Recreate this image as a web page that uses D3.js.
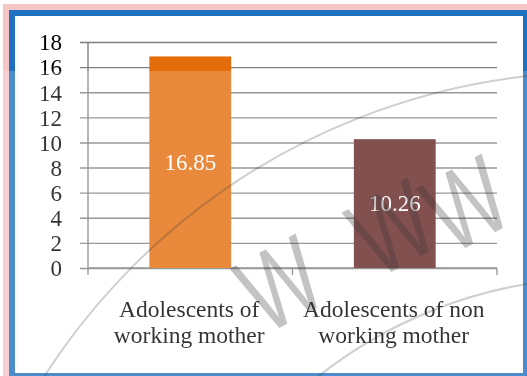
<!DOCTYPE html>
<html>
<head>
<meta charset="utf-8">
<script src="https://cdn.jsdelivr.net/npm/d3@7/dist/d3.min.js"></script>
<style>
  html, body { margin: 0; padding: 0; background: #fff; }
  svg { display: block; }
</style>
</head>
<body>
<svg id="chart" width="527" height="376"></svg>
<script>
// Chart data
const categoryLines = [
  ["Adolescents of", "working mother"],
  ["Adolescents of non", "working mother"]
];
const values = [16.85, 10.26];
const valueLabels = ["16.85", "10.26"];
const barColors = ["#E46C0A", "#632523"];
const yTicks = [0, 2, 4, 6, 8, 10, 12, 14, 16, 18];

const W = 527, H = 376;
const svg = d3.select("#chart");
const font = "'Liberation Serif', 'Times New Roman', serif";

// Frame: pink outer edge, blue border, white panel
svg.append("rect").attr("x", 3).attr("y", 4).attr("width", W - 3).attr("height", H - 4).attr("fill", "#F5C6C6");
svg.append("rect").attr("x", 9).attr("y", 10).attr("width", W - 9).attr("height", H - 10).attr("fill", "#1F70C1");
svg.append("rect").attr("x", 15).attr("y", 16).attr("width", 508).attr("height", 357).attr("fill", "#fff");

// Scales
const plot = { left: 88, right: 497, top: 42, bottom: 268 };
const x = d3.scaleBand()
  .domain(d3.range(values.length))
  .range([plot.left, plot.right])
  .paddingInner(0.6)
  .paddingOuter(0.3);
const y = d3.scaleLinear().domain([0, 18]).range([plot.bottom, plot.top]);

// Horizontal gridlines + y axis
const yAxis = d3.axisLeft(y)
  .tickValues(yTicks)
  .tickSize(-(plot.right - plot.left))
  .tickPadding(0)
  .tickFormat(d3.format("d"));
const gy = svg.append("g").attr("transform", `translate(${plot.left},0)`).call(yAxis);
gy.select(".domain").remove();
gy.selectAll(".tick line")
  .attr("x1", -8)
  .attr("stroke", "#7f7f7f")
  .attr("stroke-width", 1.4);
gy.selectAll(".tick text")
  .attr("x", -26)
  .attr("dy", "0.34em")
  .attr("fill", "#000")
  .style("font-family", font)
  .style("font-size", "23px");

// Vertical axis line
svg.append("line")
  .attr("x1", plot.left).attr("x2", plot.left)
  .attr("y1", y(18)).attr("y2", y(0))
  .attr("stroke", "#7f7f7f").attr("stroke-width", 1.4);

// Category axis with tick marks at band boundaries
const boundaries = [plot.left, (plot.left + plot.right) / 2, plot.right];
svg.append("line")
  .attr("x1", plot.left).attr("x2", plot.right)
  .attr("y1", y(0)).attr("y2", y(0))
  .attr("stroke", "#7f7f7f").attr("stroke-width", 1.4);
svg.selectAll(".xtick").data(boundaries).join("line")
  .attr("class", "xtick")
  .attr("x1", d => d).attr("x2", d => d)
  .attr("y1", y(0)).attr("y2", y(0) + 7)
  .attr("stroke", "#7f7f7f").attr("stroke-width", 1.4);

// Bars
svg.selectAll(".bar").data(values).join("rect")
  .attr("class", "bar")
  .attr("x", (d, i) => x(i))
  .attr("width", x.bandwidth())
  .attr("y", d => y(d))
  .attr("height", d => y(0) - y(d))
  .attr("fill", (d, i) => barColors[i]);

// Value labels centred in the bars
svg.selectAll(".vlabel").data(values).join("text")
  .attr("class", "vlabel")
  .attr("x", (d, i) => x(i) + x.bandwidth() / 2)
  .attr("y", d => (y(d) + y(0)) / 2)
  .attr("dy", "0.34em")
  .attr("text-anchor", "middle")
  .attr("fill", "#fff")
  .style("font-family", font)
  .style("font-size", "23px")
  .text((d, i) => valueLabels[i]);

// Category labels (two lines each)
const cat = svg.selectAll(".cat").data(categoryLines).join("text")
  .attr("class", "cat")
  .attr("text-anchor", "middle")
  .attr("fill", "#000")
  .style("font-family", font)
  .style("font-size", "23.5px");
cat.selectAll("tspan").data((d, i) => d.map(t => ({ t, i }))).join("tspan")
  .attr("x", d => x(d.i) + x.bandwidth() / 2 - 1)
  .attr("y", (d, j) => 317 + j * 26)
  .text(d => d.t);

// Faint watermark: two concentric arcs and a diagonal row of letters
const wm = svg.append("g").style("mix-blend-mode", "multiply");
const arcCentre = [601, 733];
[661, 455].forEach(r => {
  wm.append("circle")
    .attr("cx", arcCentre[0]).attr("cy", arcCentre[1]).attr("r", r)
    .attr("fill", "none").attr("stroke", "#c4c4c4").attr("stroke-width", 2);
});
const wmLetters = [[298, 318], [410, 262], [484, 238]];
wmLetters.forEach(([cx, cy]) => {
  wm.append("text")
    .attr("transform", `translate(${cx},${cy}) rotate(-28) scale(0.8,1.1)`)
    .attr("text-anchor", "middle")
    .attr("fill", "#b4b4b4")
    .style("font-family", "'Liberation Sans', Arial, sans-serif")
    .style("font-size", "100px")
    .text("W");
});

// Light haze over the lower part of the picture
svg.append("rect")
  .attr("x", 0).attr("y", 71).attr("width", W).attr("height", H - 71)
  .attr("fill", "#fff").attr("opacity", 0.2);
</script>
</body>
</html>
